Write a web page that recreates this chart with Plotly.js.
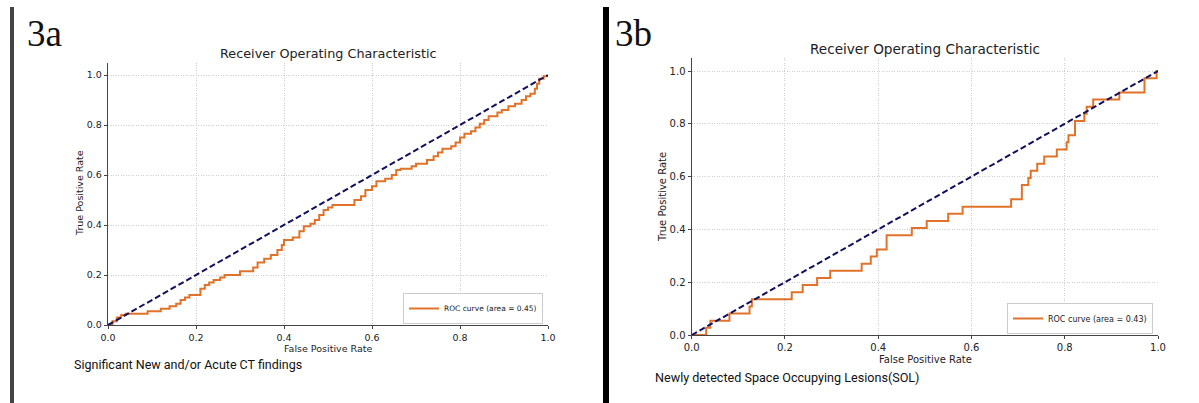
<!DOCTYPE html>
<html>
<head>
<meta charset="utf-8">
<script src="https://cdn.plot.ly/plotly-3.0.1.min.js"></script>
<style>
html,body{margin:0;padding:0;background:#fff;}
#chart{width:1199px;height:403px;}
</style>
</head>
<body>
<div id="chart"></div>
<script>
// ---- Data ----
const fprA = [0, 0.01, 0.02, 0.03, 0.04, 0.09, 0.12, 0.14, 0.155, 0.165, 0.175, 0.185, 0.21, 0.22, 0.23, 0.24, 0.255, 0.265, 0.3, 0.33, 0.34, 0.355, 0.37, 0.385, 0.395, 0.4, 0.42, 0.435, 0.445, 0.46, 0.47, 0.48, 0.49, 0.5, 0.51, 0.56, 0.575, 0.585, 0.6, 0.61, 0.63, 0.645, 0.655, 0.665, 0.69, 0.7, 0.725, 0.74, 0.75, 0.76, 0.78, 0.79, 0.8, 0.81, 0.825, 0.835, 0.845, 0.855, 0.865, 0.885, 0.895, 0.91, 0.925, 0.94, 0.95, 0.96, 0.97, 0.975, 0.98, 0.99, 1.0];
const tprA = [0, 0.015, 0.03, 0.04, 0.045, 0.055, 0.065, 0.075, 0.085, 0.1, 0.11, 0.12, 0.145, 0.16, 0.17, 0.18, 0.19, 0.2, 0.215, 0.23, 0.25, 0.265, 0.28, 0.3, 0.32, 0.34, 0.35, 0.375, 0.395, 0.405, 0.42, 0.44, 0.46, 0.47, 0.48, 0.5, 0.515, 0.54, 0.555, 0.575, 0.585, 0.6, 0.62, 0.625, 0.635, 0.645, 0.66, 0.675, 0.69, 0.705, 0.715, 0.73, 0.75, 0.765, 0.775, 0.79, 0.805, 0.82, 0.835, 0.85, 0.86, 0.875, 0.885, 0.9, 0.915, 0.925, 0.945, 0.965, 0.985, 0.995, 1.0];
const aucA = 0.45;

const fprB = [0, 0.031, 0.04, 0.081, 0.124, 0.129, 0.2145, 0.238, 0.269, 0.297, 0.3645, 0.384, 0.397, 0.418, 0.472, 0.504, 0.55, 0.581, 0.685, 0.708, 0.722, 0.727, 0.741, 0.756, 0.783, 0.804, 0.808, 0.822, 0.842, 0.847, 0.861, 0.917, 0.971, 0.997, 1.0];
const tprB = [0, 0.027, 0.054, 0.081, 0.108, 0.135, 0.162, 0.189, 0.216, 0.243, 0.27, 0.297, 0.324, 0.378, 0.405, 0.432, 0.459, 0.486, 0.514, 0.568, 0.595, 0.622, 0.649, 0.676, 0.703, 0.73, 0.757, 0.811, 0.838, 0.865, 0.892, 0.919, 0.973, 1.0, 1.0];
const aucB = 0.43;

const chanceLine = [0, 1];
const tickVals = [0, 0.2, 0.4, 0.6, 0.8, 1.0];
const tickText = ["0.0", "0.2", "0.4", "0.6", "0.8", "1.0"];

const panelLabels = ["3a", "3b"];
const plotTitle = "Receiver Operating Characteristic";
const xTitle = "False Positive Rate";
const yTitle = "True Positive Rate";
const captions = ["Significant New and/or Acute CT findings", "Newly detected Space Occupying Lesions(SOL)"];

// ---- Styling ----
const W = 1199, H = 403;
const orange = "#e0722a";
const navy = "#10105e";
const mpl = "DejaVu Sans, sans-serif";
const px = v => v / W;
const py = v => 1 - v / H;

function axisCommon(fs) {
  return {
    range: [0, 1], tickvals: tickVals, ticktext: tickText,
    showgrid: true, gridcolor: "#cfcfcf", griddash: "1px,1.5px", gridwidth: 1,
    showline: true, linecolor: "#444", linewidth: 1.2, mirror: false,
    ticks: "outside", ticklen: 3, tickcolor: "#444", tickwidth: 1,
    tickfont: {family: mpl, size: fs, color: "#222"},
    zeroline: false, fixedrange: true
  };
}

const data = [
  {x: fprA, y: tprA, type: "scatter", mode: "lines", line: {color: orange, width: 2, shape: "hv"},
   name: "ROC curve (area = " + aucA.toFixed(2) + ")", xaxis: "x", yaxis: "y", legend: "legend"},
  {x: chanceLine, y: chanceLine, type: "scatter", mode: "lines", line: {color: navy, width: 2, dash: "6px,3px"},
   showlegend: false, xaxis: "x", yaxis: "y"},
  {x: fprB, y: tprB, type: "scatter", mode: "lines", line: {color: orange, width: 2, shape: "hv"},
   name: "ROC curve (area = " + aucB.toFixed(2) + ")", xaxis: "x2", yaxis: "y2", legend: "legend2"},
  {x: chanceLine, y: chanceLine, type: "scatter", mode: "lines", line: {color: navy, width: 2, dash: "6px,3px"},
   showlegend: false, xaxis: "x2", yaxis: "y2"}
];

// panel geometry in pixels
const A = {x0: 108, x1: 548, yb: 325, yt: 62.5};
const B = {x0: 691.7, x1: 1158, yb: 335, yt: 57.8};

const xa = Object.assign(axisCommon(9.5), {domain: [px(A.x0), px(A.x1)], anchor: "y"});
const ya = Object.assign(axisCommon(9.5), {domain: [1 - A.yb / H, 1 - A.yt / H], anchor: "x", range: [0, 1.05]});
const xb = Object.assign(axisCommon(10), {domain: [px(B.x0), px(B.x1)], anchor: "y2"});
const yb = Object.assign(axisCommon(10), {domain: [1 - B.yb / H, 1 - B.yt / H], anchor: "x2", range: [0, 1.05]});

function legendAt(xr, yb, fs) {
  return {x: px(xr), y: py(yb), xanchor: "right", yanchor: "bottom", xref: "paper", yref: "paper",
    bgcolor: "rgba(255,255,255,0.9)", bordercolor: "#cccccc", borderwidth: 1,
    font: {family: mpl, size: fs, color: "#222"}, itemwidth: 30, tracegroupgap: 0};
}

function txt(text, x, y, fs, opts) {
  return Object.assign({text: text, x: px(x), y: py(y), xref: "paper", yref: "paper",
    showarrow: false, font: {family: mpl, size: fs, color: "#222"}, xanchor: "center", yanchor: "middle"}, opts || {});
}

const annotations = [
  txt(panelLabels[0], 25, 33, 37, {xanchor: "left", font: {family: "Liberation Serif, serif", size: 37, color: "#111"}}),
  txt(panelLabels[1], 613, 33, 37, {xanchor: "left", font: {family: "Liberation Serif, serif", size: 37, color: "#111"}}),
  txt(plotTitle, 328, 53, 12.8),
  txt(plotTitle, 925, 49, 13.6),
  txt(xTitle, 328, 348, 9.5),
  txt(xTitle, 925, 359, 10),
  txt(yTitle, 79, 193, 9.5, {textangle: -90}),
  txt(yTitle, 662, 197, 10, {textangle: -90}),
  txt(captions[0], 72, 364, 12.5, {xanchor: "left", font: {family: "Roboto, sans-serif", size: 12.5, color: "#111"}}),
  txt(captions[1], 653, 377, 12.6, {xanchor: "left", font: {family: "Roboto, sans-serif", size: 12.6, color: "#111"}})
];

const shapes = [
  {type: "rect", xref: "paper", yref: "paper", x0: px(10), x1: px(14), y0: 0, y1: py(7), fillcolor: "#444", line: {width: 0}},
  {type: "rect", xref: "paper", yref: "paper", x0: px(603), x1: px(609), y0: 0, y1: py(7), fillcolor: "#000", line: {width: 0}}
];

const layout = {
  width: W, height: H, margin: {l: 0, r: 0, t: 0, b: 0},
  paper_bgcolor: "#fff", plot_bgcolor: "#fff",
  xaxis: xa, yaxis: ya, xaxis2: xb, yaxis2: yb,
  legend: legendAt(543, 324, 7.5),
  legend2: legendAt(1153, 334, 8),
  annotations: annotations, shapes: shapes, showlegend: true
};

Plotly.newPlot("chart", data, layout, {displayModeBar: false, staticPlot: true});
</script>
</body>
</html>
